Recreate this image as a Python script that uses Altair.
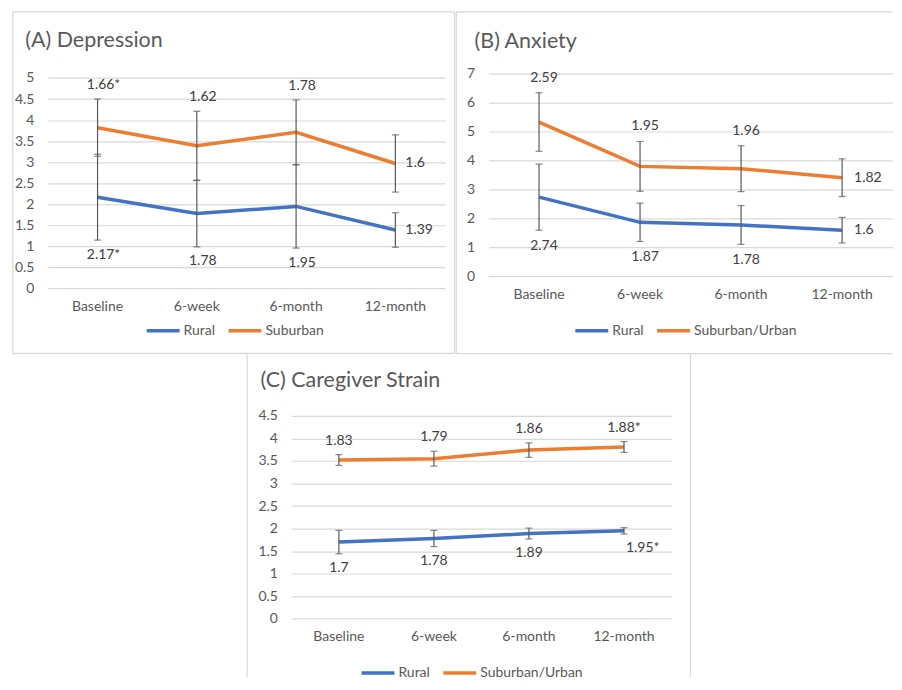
import altair as alt
import pandas as pd

timepoints = ["Baseline", "6-week", "6-month", "12-month"]

# (A) Depression
dep_rural = [2.17, 1.78, 1.95, 1.39]
dep_rural_err = [1.02, 0.79, 0.99, 0.41]
dep_sub = [3.82, 3.39, 3.71, 2.97]
dep_sub_err = [0.68, 0.82, 0.77, 0.68]
dep_rural_labels = ["2.17*", "1.78", "1.95", "1.39"]
dep_sub_labels = ["1.66*", "1.62", "1.78", "1.6"]

# (B) Anxiety
anx_rural = [2.74, 1.87, 1.78, 1.60]
anx_rural_err = [1.14, 0.66, 0.67, 0.44]
anx_sub = [5.33, 3.80, 3.72, 3.41]
anx_sub_err = [1.01, 0.86, 0.79, 0.65]
anx_rural_labels = ["2.74", "1.87", "1.78", "1.6"]
anx_sub_labels = ["2.59", "1.95", "1.96", "1.82"]

# (C) Caregiver Strain
cg_rural = [1.70, 1.78, 1.89, 1.95]
cg_rural_err = [0.26, 0.18, 0.12, 0.07]
cg_sub = [3.52, 3.55, 3.74, 3.81]
cg_sub_err = [0.12, 0.165, 0.16, 0.12]
cg_rural_labels = ["1.7", "1.78", "1.89", "1.95*"]
cg_sub_labels = ["1.83", "1.79", "1.86", "1.88*"]

BLUE = "#4472C4"
ORANGE = "#ED7D31"
GRID = "#d9d9d9"
TXT = "#595959"
LBL = "#404040"
FONT = "Lato"


def make_df(rural, rural_err, sub, sub_err, rural_labels, sub_labels, sub_name,
            rural_place, sub_place):
    rows = []
    for i, t in enumerate(timepoints):
        rows.append(dict(time=t, series="Rural", value=rural[i],
                         lo=rural[i] - rural_err[i], hi=rural[i] + rural_err[i],
                         label=rural_labels[i], place=rural_place[i]))
        rows.append(dict(time=t, series=sub_name, value=sub[i],
                         lo=sub[i] - sub_err[i], hi=sub[i] + sub_err[i],
                         label=sub_labels[i], place=sub_place[i]))
    return pd.DataFrame(rows)


def panel(df, title, sub_name, width, height, ymax, yvalues, geo):
    one = pd.DataFrame({"k": [0]})
    X = alt.X("time:N", sort=timepoints, title=None,
              axis=alt.Axis(labelAngle=0))

    def Y(field):
        return alt.Y(field, title=None,
                     scale=alt.Scale(domain=[0, ymax], nice=False, zero=True),
                     axis=alt.Axis(values=yvalues, format="~g"))

    base = alt.Chart(df)
    lines = base.mark_line(strokeWidth=3.5).encode(
        x=X, y=Y("value:Q"),
        color=alt.Color("series:N",
                        scale=alt.Scale(domain=["Rural", sub_name], range=[BLUE, ORANGE]),
                        legend=alt.Legend(orient="none", legendX=geo["legx"], legendY=geo["legy"],
                                          direction="horizontal", title=None,
                                          symbolType="stroke", symbolSize=1089,
                                          symbolStrokeWidth=3.5, labelFont=FONT,
                                          labelFontSize=14, labelColor=TXT,
                                          columnPadding=6, labelOffset=2)))
    bars = base.mark_rule(color=TXT, strokeWidth=1.2).encode(
        x=X, y=Y("lo:Q"), y2="hi:Q")
    cap_lo = base.mark_tick(color=TXT, thickness=1.2, size=7).encode(x=X, y=Y("lo:Q"))
    cap_hi = base.mark_tick(color=TXT, thickness=1.2, size=7).encode(x=X, y=Y("hi:Q"))

    tstyle = dict(font=FONT, fontSize=14, color=LBL)
    above = base.transform_filter(alt.datum.place == "above").mark_text(
        baseline="middle", align="center", dx=geo["dx"], dy=geo["dy_above"], **tstyle
    ).encode(x=X, y=Y("hi:Q"), text="label:N")
    below = base.transform_filter(alt.datum.place == "below").mark_text(
        baseline="middle", align="center", dx=geo["dx"], dy=geo["dy_below"], **tstyle
    ).encode(x=X, y=Y("lo:Q"), text="label:N")
    right = base.transform_filter(alt.datum.place == "right").mark_text(
        baseline="middle", align="left", dx=geo["dx_right"], dy=0, **tstyle
    ).encode(x=X, y=Y("value:Q"), text="label:N")
    belowright = base.transform_filter(alt.datum.place == "belowright").mark_text(
        baseline="middle", align="left", dx=2, dy=geo["dy_below"], **tstyle
    ).encode(x=X, y=Y("lo:Q"), text="label:N")

    ttl = alt.Chart(one).mark_text(font=FONT, fontSize=21.5, color=TXT, align="left",
                                   baseline="alphabetic").encode(
        x=alt.value(geo["tx"]), y=alt.value(geo["ty"]), text=alt.value(title))

    # panel frame lines (decoration, pixel offsets from the plot area)
    layers = []
    for (xa, ya, xb, yb) in geo["frame"]:
        layers.append(alt.Chart(one).mark_rule(color=GRID, strokeWidth=1.2).encode(
            x=alt.value(xa), y=alt.value(ya), x2=alt.value(xb), y2=alt.value(yb)))
    layers += [lines, bars, cap_lo, cap_hi, above, below, right, belowright, ttl]
    return alt.layer(*layers).properties(width=width, height=height)


def box(x1, y1, x2, y2, sides):
    out = []
    if "l" in sides:
        out.append((x1, y1, x1, y2))
    if "r" in sides:
        out.append((x2, y1, x2, y2))
    if "t" in sides:
        out.append((x1, y1, x2, y1))
    if "b" in sides:
        out.append((x1, y2, x2, y2))
    return out


dfA = make_df(dep_rural, dep_rural_err, dep_sub, dep_sub_err, dep_rural_labels, dep_sub_labels,
              "Suburban", ["below", "below", "below", "right"], ["above", "above", "above", "right"])
dfB = make_df(anx_rural, anx_rural_err, anx_sub, anx_sub_err, anx_rural_labels, anx_sub_labels,
              "Suburban/Urban", ["below", "below", "below", "right"], ["above", "above", "above", "right"])
dfC = make_df(cg_rural, cg_rural_err, cg_sub, cg_sub_err, cg_rural_labels, cg_sub_labels,
              "Suburban/Urban", ["below", "below", "below", "belowright"], ["above", "above", "above", "above"])

A = panel(dfA, "(A) Depression", "Suburban", 398, 215.4, 5.104,
          [0, 0.5, 1, 1.5, 2, 2.5, 3, 3.5, 4, 4.5, 5],
          dict(legx=97, legy=239, dx=6, dy_above=-14, dy_below=14.5, dx_right=10,
               tx=-22.7, ty=-26.8,
               frame=box(-35.2, -61.8, 407.6, 280.4, "lrtb")))
B = panel(dfB, "(B) Anxiety", "Suburban/Urban", 405, 203.4, 7,
          [0, 1, 2, 3, 4, 5, 6, 7],
          dict(legx=85, legy=239, dx=5, dy_above=-15, dy_below=16, dx_right=12,
               tx=-14, ty=-26,
               frame=box(-32.3, -61.8, 405, 280.7, "ltb")))
C = panel(dfC, "(C) Caregiver Strain", "Suburban/Urban", 381, 203.4, 4.5,
          [0, 0.5, 1, 1.5, 2, 2.5, 3, 3.5, 4, 4.5],
          dict(legx=68.3, legy=239, dx=0, dy_above=-14, dy_below=14.5, dx_right=10,
               tx=-31, ty=-29,
               frame=box(-44.3, -62, 400, 262, "lr")))

spacer = alt.Chart(pd.DataFrame({"k": [0]})).mark_point(opacity=0).encode(
    x=alt.value(0), y=alt.value(0)).properties(width=243.3, height=10)

row1 = alt.hconcat(A, B, spacing=43.6, bounds="flush").resolve_scale(color="independent")
row2 = alt.hconcat(spacer, C, spacing=0, bounds="flush").resolve_scale(color="independent")

chart = alt.vconcat(row1, row2, spacing=343, bounds="flush").resolve_scale(
    color="independent"
).properties(
    padding={"left": 3, "top": 2, "right": 0, "bottom": 0}
).configure_view(stroke="transparent").configure_axisX(
    labelFont=FONT, labelFontSize=14, labelColor=TXT, domain=False, ticks=False,
    grid=False, labelPadding=11
).configure_axisY(
    labelFont=FONT, labelFontSize=14, labelColor=TXT, domain=False, ticks=False,
    grid=True, gridColor=GRID, gridWidth=1.2, labelPadding=14
)

chart.save("out.html", embed_options={"renderer": "svg", "actions": False})
